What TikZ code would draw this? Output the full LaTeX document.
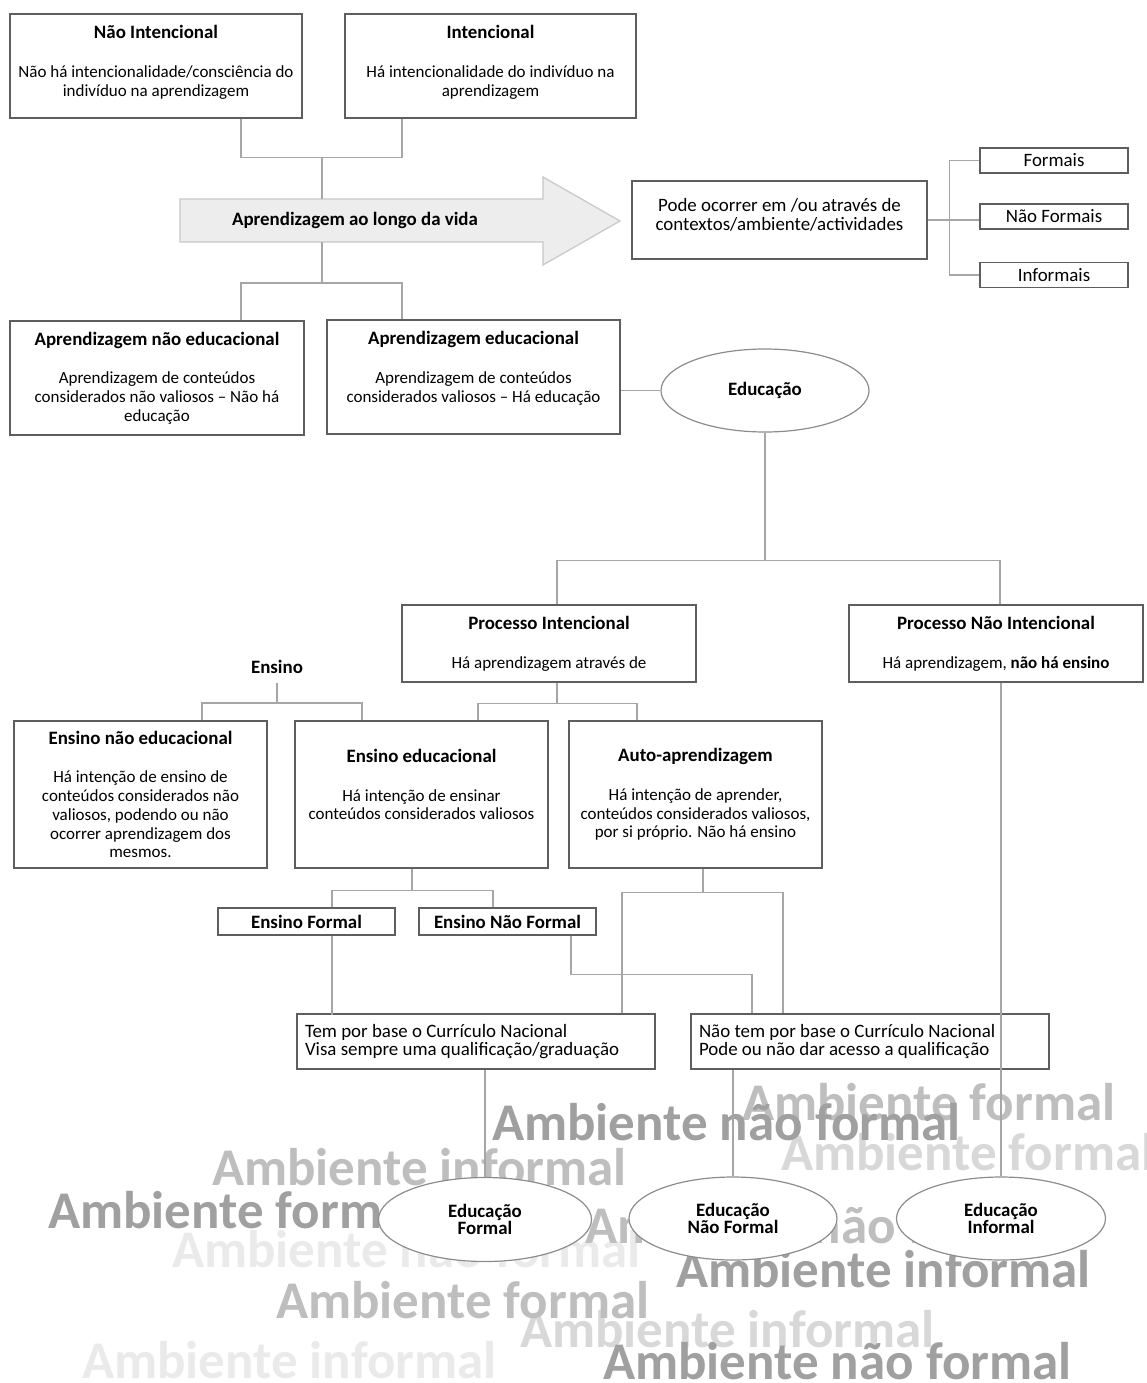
\documentclass[tikz,border=0pt]{standalone}
\usepackage{fontspec}
\setmainfont{Carlito}
\usetikzlibrary{shapes.geometric}

\definecolor{boxgray}{HTML}{5E5E5E}
\definecolor{linkgray}{HTML}{A6A6A6}
\definecolor{ovalgray}{HTML}{8C8C8C}
\definecolor{arrowfill}{HTML}{EDEDED}
\definecolor{arrowline}{HTML}{C8C8C8}
\definecolor{markdark}{HTML}{A0A0A0}
\definecolor{markmid}{HTML}{BEBEBE}
\definecolor{marklight}{HTML}{D8D8D8}
\definecolor{markpale}{HTML}{EAEAEA}

\newcommand{\bodysize}{\fontsize{17}{18.75}\selectfont}
\newcommand{\bigsize}{\fontsize{18.9}{18.4}\selectfont}
\newcommand{\headsize}{\fontsize{18.9}{18.75}\selectfont\bfseries}
\newcommand{\marksize}{\fontsize{53}{60}\selectfont\bfseries}
\newcommand{\heading}[1]{{\headsize #1}\\[20pt]}

\begin{document}
\begin{tikzpicture}[x=1pt, y=-1pt,
    box/.style={draw=boxgray, line width=1.3pt, fill=white, align=center,
                inner sep=4pt, font=\bodysize},
    tag/.style={draw=boxgray, line width=1.3pt, fill=white, inner sep=2pt},
    link/.style={draw=linkgray, line width=1.2pt},
    oval/.style={ellipse, draw=ovalgray, line width=1.2pt, fill=white,
                 align=center, inner sep=0pt,
                 font=\fontsize{18.9}{17.5}\selectfont\bfseries},
    wmark/.style={anchor=base west, inner sep=0pt, font=\marksize}]

  % Page
  \useasboundingbox (0,0) rectangle (1146,1383);
  \clip (0,0) rectangle (1146,1383);

  % Background words
  \node[wmark, text=markpale]  (amb6)  at (172,1267) {Ambiente não formal};
  \node[wmark, text=markpale]  (amb11) at (82,1378)  {Ambiente informal};
  \node[wmark, text=marklight] (amb3)  at (781,1170) {Ambiente formal};
  \node[wmark, text=marklight] (amb10) at (520,1347) {Ambiente informal};
  \node[wmark, text=markmid]   (amb2)  at (742,1120) {Ambiente formal};
  \node[wmark, text=markmid]   (amb4)  at (212,1185) {Ambiente informal};
  \node[wmark, text=markmid]   (amb7)  at (585,1243) {Ambiente não formal};
  \node[wmark, text=markmid]   (amb9)  at (276,1318) {Ambiente formal};
  \node[wmark, text=markdark]  (amb1)  at (492,1140) {Ambiente não formal};
  \node[wmark, text=markdark]  (amb5)  at (48,1228)  {Ambiente formal};
  \node[wmark, text=markdark]  (amb8)  at (676,1287) {Ambiente informal};
  \node[wmark, text=markdark]  (amb12) at (603,1379) {Ambiente não formal};

  % Intentionality
  \node[box, minimum width=292pt, minimum height=104pt, text depth=10pt] (nint) at (156,66)
    {\heading{Não Intencional}Não há intencionalidade/consciência do\\
     indivíduo na aprendizagem};
  \node[box, minimum width=291pt, minimum height=104pt, text depth=10pt] (int) at (490.5,66)
    {\heading{Intencional}Há intencionalidade do indivíduo na\\aprendizagem};

  % Lifelong learning arrow
  \filldraw[fill=arrowfill, draw=arrowline, line width=1.2pt]
    (180,199) -- (543,199) -- (543,177) -- (620,221)
    -- (543,265) -- (543,242) -- (180,242) -- cycle;
  \node[font=\headsize] (life) at (355,220.5) {Aprendizagem ao longo da vida};
  \coordinate (lifetop) at (322,199);
  \coordinate (lifebot) at (322,242);

  % Contexts
  \node[box, font=\bigsize, minimum width=295pt, minimum height=78pt, text depth=11pt] (pode) at (779.5,220)
    {Pode ocorrer em /ou através de\\contextos/ambiente/actividades};
  \node[tag, font=\bigsize, minimum width=148pt, minimum height=25pt] (formais) at (1054,160.5) {Formais};
  \node[tag, font=\bigsize, minimum width=148pt, minimum height=25pt] (naoformais) at (1054,216.5) {Não Formais};
  \node[tag, font=\bigsize, minimum width=148pt, minimum height=25pt] (informais) at (1054,275) {Informais};

  % Kinds of learning
  \node[box, minimum width=294pt, minimum height=114pt] (apnedu) at (157,378)
    {\heading{Aprendizagem não educacional}Aprendizagem de conteúdos\\
     considerados não valiosos – Não há\\educação};
  \node[box, minimum width=293pt, minimum height=114pt, text depth=20pt] (apedu) at (473.5,377)
    {\heading{Aprendizagem educacional}Aprendizagem de conteúdos\\
     considerados valiosos – Há educação};
  \node[oval, minimum width=208pt, minimum height=83pt] (educacao) at (765,390.5) {Educação};

  % Processes
  \node[box, minimum width=294pt, minimum height=77pt] (procint) at (549,643.5)
    {\heading{Processo Intencional}Há aprendizagem através de};
  \node[box, minimum width=294pt, minimum height=77pt] (procnint) at (996,643.5)
    {\heading{Processo Não Intencional}Há aprendizagem, \textbf{não há ensino}};

  % Teaching
  \node[font=\headsize] (ensino) at (277,667) {Ensino};
  \node[box, minimum width=253pt, minimum height=147pt] (enedu) at (140.5,794.5)
    {\heading{Ensino não educacional}Há intenção de ensino de\\conteúdos considerados não\\
     valiosos, podendo ou não\\ocorrer aprendizagem dos\\mesmos.};
  \node[box, minimum width=253pt, minimum height=147pt, text depth=20pt] (eedu) at (421.5,794.5)
    {\heading{Ensino educacional}Há intenção de ensinar\\conteúdos considerados valiosos};
  \node[box, minimum width=253pt, minimum height=147pt] (auto) at (695.5,794.5)
    {\heading{Auto-aprendizagem}Há intenção de aprender,\\conteúdos considerados valiosos,\\
     por si próprio. Não há ensino};
  \node[tag, font=\headsize, minimum width=177pt, minimum height=27pt] (eformal) at (306.5,921.5) {Ensino Formal};
  \node[tag, font=\headsize, minimum width=177pt, minimum height=27pt] (enformal) at (507.5,921.5) {Ensino Não Formal};

  % Curriculum
  \node[box, font=\bigsize, align=flush left, text width=342pt, inner xsep=8pt,
        minimum height=55pt] (tembox) at (476,1041.5)
    {Tem por base o Currículo Nacional\\Visa sempre uma qualificação/graduação};
  \node[box, font=\bigsize, align=flush left, text width=342pt, inner xsep=8pt,
        minimum height=55pt] (naotem) at (870,1041.5)
    {Não tem por base o Currículo Nacional\\Pode ou não dar acesso a qualificação};

  % Connectors
  \draw[link] ([xshift=85pt]nint.south) -- ++(0,39) -| ([xshift=-88.5pt]int.south);
  \draw[link] (lifetop) -- ++(0,-42);
  \draw[link] (lifebot) -- ++(0,41) coordinate (lowsplit);
  \draw[link] ([xshift=84pt]apnedu.north) |- (lowsplit) -| ([xshift=-71.5pt]apedu.north);
  \draw[link] (pode.east) -- (pode.east -| naoformais.west);
  \draw[link] (formais.west) -- ++(-30,0) |- (informais.west);
  \draw[link] (educacao.west) -- (educacao.west -| apedu.east);
  \draw[link] (educacao.south) -- ++(0,128) coordinate (edusplit);
  \draw[link] ([xshift=8pt]procint.north) |- (edusplit) -| ([xshift=4pt]procnint.north);
  \draw[link] (ensino.center) ++(0,16) -- ++(0,20) coordinate (ensinosplit);
  \draw[link] ([xshift=61.5pt]enedu.north) |- (ensinosplit) -| ([xshift=-59.5pt]eedu.north);
  \draw[link] ([xshift=8pt]procint.south) -- ++(0,21) coordinate (procsplit);
  \draw[link] ([xshift=56.5pt]eedu.north) |- (procsplit) -| ([xshift=-58.5pt]auto.north);
  \draw[link] ([xshift=-9.5pt]eedu.south) -- ++(0,22) coordinate (eedusplit);
  \draw[link] ([xshift=25.5pt]eformal.north) |- (eedusplit) -| ([xshift=-14.5pt]enformal.north);
  \draw[link] ([xshift=7.5pt]auto.south) -- ++(0,24) coordinate (autosplit);
  \draw[link] ([xshift=146pt]tembox.north) |- (autosplit) -| ([xshift=-87pt]naotem.north);
  \draw[link] ([xshift=25.5pt]eformal.south) -- ++(0,79);
  \draw[link] ([xshift=63.5pt]enformal.south) -- ++(0,39) -| ([xshift=-118pt]naotem.north);

  % Kinds of education
  \node[oval, minimum width=213pt, minimum height=84pt] (eduformal) at (485,1219.5) {Educação\\Formal};
  \node[oval, minimum width=208pt, minimum height=83pt] (edunformal) at (733,1218.5) {Educação\\Não Formal};
  \node[oval, minimum width=209pt, minimum height=83pt] (eduinformal) at (1001,1218.5) {Educação\\Informal};
  \draw[link] (eduformal.north) -- (eduformal.north |- tembox.south);
  \draw[link] (edunformal.north) -- (edunformal.north |- naotem.south);
  \draw[link] (procnint.south -| eduinformal.north) -- (eduinformal.north);
\end{tikzpicture}
\end{document}
